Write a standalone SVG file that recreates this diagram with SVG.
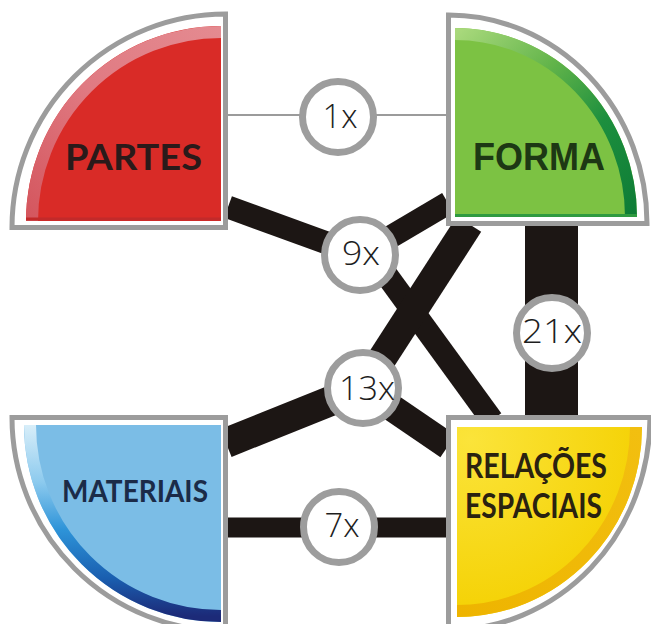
<svg xmlns="http://www.w3.org/2000/svg" width="651" height="624" viewBox="0 0 651 624">
<defs>
<style>
.frame{fill:#ffffff;stroke:#9c9c9c;stroke-width:5}
.rim{fill:none;stroke-width:12}
.band{stroke:#1c1614;fill:none;stroke-linecap:butt}
.badge{fill:#ffffff;stroke:#9d9d9d;stroke-width:7}
.num{font-family:"Open Sans","Liberation Sans",Arial,sans-serif;font-weight:300;font-size:33px;fill:#1e1e1e;text-anchor:middle}
.lbl{font-family:Lato,"Liberation Sans",sans-serif;font-weight:700}
</style>
<linearGradient id="gRed" gradientUnits="userSpaceOnUse" x1="32" y1="221" x2="221" y2="32">
<stop offset="0" stop-color="#d4565e"/><stop offset="0.5" stop-color="#e07a82"/><stop offset="1" stop-color="#e48a90"/>
</linearGradient>
<linearGradient id="gGreen" gradientUnits="userSpaceOnUse" x1="455" y1="34" x2="631" y2="217">
<stop offset="0" stop-color="#a9d97c"/><stop offset="0.35" stop-color="#62b44a"/><stop offset="0.65" stop-color="#1d8f3e"/><stop offset="1" stop-color="#0e7c36"/>
</linearGradient>
<linearGradient id="gBlue" gradientUnits="userSpaceOnUse" x1="0" y1="425" x2="0" y2="616">
<stop offset="0" stop-color="#d8eef9"/><stop offset="0.3" stop-color="#8ccaee"/><stop offset="0.55" stop-color="#2d93d8"/><stop offset="0.8" stop-color="#1a5fb0"/><stop offset="1" stop-color="#1c2a78"/>
</linearGradient>
<linearGradient id="gYellow" gradientUnits="userSpaceOnUse" x1="636" y1="427" x2="457" y2="611">
<stop offset="0" stop-color="#f2bf10"/><stop offset="1" stop-color="#eeb400"/>
</linearGradient>
<radialGradient id="rYellow" gradientUnits="userSpaceOnUse" cx="470" cy="440" r="190">
<stop offset="0" stop-color="#fbe43a"/><stop offset="1" stop-color="#f4d000"/>
</radialGradient>
</defs>

<g id="connectors">
<line x1="228" y1="115" x2="446" y2="115" stroke="#7a7a7a" stroke-width="1.5"/>
<line class="band" x1="228" y1="207" x2="360" y2="255" stroke-width="23"/>
<line class="band" x1="448" y1="203" x2="360" y2="255" stroke-width="23"/>
<line class="band" x1="372" y1="255" x2="492" y2="420" stroke-width="23"/>
<line class="band" x1="469" y1="224" x2="363" y2="388" stroke-width="29"/>
<line class="band" x1="226" y1="443" x2="363" y2="388" stroke-width="30"/>
<line class="band" x1="363" y1="388" x2="448" y2="446" stroke-width="27"/>
<line class="band" x1="551.5" y1="224" x2="551.5" y2="418" stroke-width="53"/>
<line class="band" x1="226" y1="527.5" x2="448" y2="527.5" stroke-width="20"/>
</g>

<g id="partes">
<path class="frame" d="M225.5,227.5 H12 A213.5,213.5 0 0 1 225.5,14 Z"/>
<path d="M221,221 H26 A195,195 0 0 1 221,26 Z" fill="#d92b27"/>
<path class="rim" d="M32,221 A189,189 0 0 1 221,32" stroke="url(#gRed)"/>
<line x1="26" y1="219" x2="221" y2="219" stroke="#c22a2a" stroke-width="3"/>
<text class="lbl" x="65" y="170" font-size="37" fill="#2a1a1a" textLength="137" lengthAdjust="spacingAndGlyphs">PARTES</text>
</g>

<g id="forma">
<path class="frame" d="M448.5,223.5 V15 A198.5,208.5 0 0 1 647,223.5 Z"/>
<path d="M455,217 V28 A182,189 0 0 1 637,217 Z" fill="#7cc243"/>
<path class="rim" d="M455,34 A176,183 0 0 1 631,217" stroke="url(#gGreen)"/>
<line x1="455" y1="215.5" x2="637" y2="215.5" stroke="#2f9a40" stroke-width="3"/>
<text x="473" y="170" font-family="'Liberation Sans',Arial,sans-serif" font-weight="700" font-size="38" fill="#1d3814" textLength="132" lengthAdjust="spacingAndGlyphs">FORMA</text>
</g>

<g id="materiais">
<path class="frame" d="M225.5,417.5 V631 A213.5,213.5 0 0 1 12,417.5 Z"/>
<path d="M221,425 V622 A197,197 0 0 1 24,425 Z" fill="#7bbde6"/>
<path class="rim" d="M30,425 A191,191 0 0 0 221,616" stroke="url(#gBlue)"/>
<text class="lbl" x="62" y="502" font-size="30" fill="#1b2b48" textLength="146" lengthAdjust="spacingAndGlyphs">MATERIAIS</text>
</g>

<g id="relacoes">
<path class="frame" d="M448.5,417.5 H650 A201.5,212.5 0 0 1 448.5,630 Z"/>
<path d="M457,427 H642 A185,190 0 0 1 457,617 Z" fill="url(#rYellow)"/>
<path class="rim" d="M636,427 A179,184 0 0 1 457,611" stroke="url(#gYellow)"/>
<text class="lbl" x="465" y="478" font-size="35" fill="#2a2210" textLength="142" lengthAdjust="spacingAndGlyphs">RELAÇÕES</text>
<text class="lbl" x="465" y="518" font-size="35" fill="#2a2210" textLength="137" lengthAdjust="spacingAndGlyphs">ESPACIAIS</text>
</g>

<g id="labels">
<g id="badge-1x"><circle class="badge" cx="338" cy="117" r="35.5"/><text class="num" x="340" y="128" textLength="35" lengthAdjust="spacingAndGlyphs">1x</text></g>
<g id="badge-9x"><circle class="badge" cx="360" cy="255" r="35.5"/><text class="num" x="361" y="265" textLength="38" lengthAdjust="spacingAndGlyphs">9x</text></g>
<g id="badge-13x"><circle class="badge" cx="363" cy="388" r="35.5"/><text class="num" x="367" y="400" textLength="56" lengthAdjust="spacingAndGlyphs">13x</text></g>
<g id="badge-21x"><circle class="badge" cx="552" cy="333" r="35.5"/><text class="num" x="552" y="343" textLength="60" lengthAdjust="spacingAndGlyphs">21x</text></g>
<g id="badge-7x"><circle class="badge" cx="339" cy="527" r="35.5"/><text class="num" x="342" y="537" textLength="35" lengthAdjust="spacingAndGlyphs">7x</text></g>
</g>
</svg>
